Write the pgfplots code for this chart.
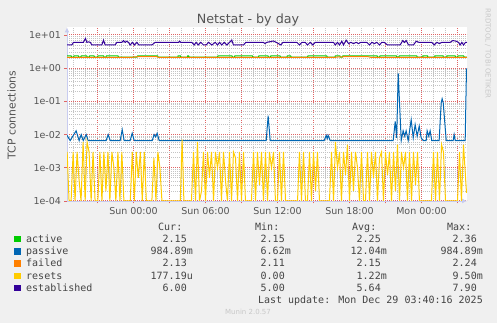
\documentclass[border=0pt]{standalone}
\usepackage{pgfplots}
\pgfplotsset{compat=1.18}
\usetikzlibrary{arrows.meta}
\usepackage{fontspec}
\setmainfont{DejaVu Sans}
\newfontfamily\monof{DejaVu Sans Mono}
\definecolor{bgc}{HTML}{F0F0F0}
\definecolor{txt}{HTML}{555555}
\definecolor{legtxt}{HTML}{444444}
\definecolor{faint}{HTML}{C8C8C8}
\definecolor{axiscol}{HTML}{C8CCF0}
\definecolor{mgrid}{HTML}{E06464}
\definecolor{gridc}{HTML}{C4C4C4}
\definecolor{cact}{HTML}{00CC00}
\definecolor{cpas}{HTML}{0066B3}
\definecolor{cfai}{HTML}{FF8000}
\definecolor{cres}{HTML}{FFCC00}
\definecolor{cest}{HTML}{330099}
\newcommand\sfx{\phantom{m}}
\begin{document}
\begin{tikzpicture}[x=1bp,y=1bp]
\fill[bgc] (0bp,0bp) rectangle (497bp,323bp);
\begin{axis}[
  at={(67bp,122bp)}, anchor=south west,
  width=400bp, height=173.5bp, scale only axis,
  xmin=-5.5417, xmax=27.7917,
  ymode=log, ymin=1e-4, ymax=16.8,
  axis background/.style={fill=white},
  axis x line=bottom, axis y line=left,
  axis line style={draw=axiscol, line width=0.8bp},
  x axis line style={-{Latex[length=5bp,width=5bp]}},
  y axis line style={-{Latex[length=5bp,width=5bp]}},
  xtick={-3,0,3,6,9,12,15,18,21,24,27},
  xticklabels={,Sun 00:00,,Sun 06:00,,Sun 12:00,,Sun 18:00,,Mon 00:00,},
  minor xtick={-5,-4,-2,-1,1,2,4,5,7,8,10,11,13,14,16,17,19,20,22,23,25,26},
  ytick={1e-4,1e-3,1e-2,1e-1,1,10},
  yticklabels={1e-04,1e-03,1e-02,1e-01,1e+00,1e+01},
  minor ytick={2e-4,3e-4,4e-4,5e-4,6e-4,7e-4,8e-4,9e-4,
               2e-3,3e-3,4e-3,5e-3,6e-3,7e-3,8e-3,9e-3,
               2e-2,3e-2,4e-2,5e-2,6e-2,7e-2,8e-2,9e-2,
               0.2,0.3,0.4,0.5,0.6,0.7,0.8,0.9,
               2,3,4,5,6,7,8,9},
  xmajorgrids, ymajorgrids, xminorgrids, yminorgrids,
  every axis grid/.style={},
  every major grid/.style={draw=mgrid, line width=1bp, dash pattern=on 1bp off 1bp},
  every minor grid/.style={draw=gridc, line width=0.8bp, dash pattern=on 1bp off 1bp},
  every tick/.style={draw=mgrid, line width=0.8bp},
  major tick length=2.5bp, minor tick length=0pt,
  tick align=outside,
  ticklabel style={font=\fontsize{9.5bp}{11bp}\selectfont, text=txt},
  every axis plot/.append style={line width=1bp, mark=none},
]
% active
\addplot[cact] coordinates {
(-5.54,2.36)(-5.2,2.36)(-5.15,2.15)(-5.0,2.15)(-4.95,2.36)(-4.6,2.36)(-4.55,2.15)
(-4.4,2.15)(-4.35,2.36)(-3.9,2.36)(-3.85,2.15)(-3.7,2.15)(-3.65,2.36)(-3.3,2.36)(-3.25,2.15)
(-3.0,2.15)(-2.95,2.36)(-2.5,2.36)(-2.45,2.15)(-2.3,2.15)(-2.25,2.36)(-1.3,2.36)(-1.25,2.15)
(0.3,2.15)(0.35,2.36)(2.0,2.36)(2.05,2.15)
(3.7,2.15)(3.72,2.36)(3.9,2.36)(3.92,2.15)(4.5,2.15)(4.52,2.36)(4.6,2.36)(4.62,2.15)
(7.0,2.15)(7.05,2.36)(8.2,2.36)(8.25,2.15)(8.4,2.15)(8.45,2.36)(9.9,2.36)(9.95,2.15)
(10.4,2.15)(10.45,2.36)(11.2,2.36)(11.25,2.15)(11.4,2.15)(11.45,2.36)(12.2,2.36)(12.25,2.15)
(12.8,2.15)(12.82,2.36)(13.1,2.36)(13.12,2.15)(14.5,2.15)(14.55,2.36)(16.1,2.36)(16.15,2.15)
(16.8,2.15)(16.82,2.36)(17.2,2.36)(17.22,2.15)(17.4,2.15)(17.45,2.36)(19.8,2.36)
(20.3,2.36)(20.35,2.15)(20.5,2.15)(20.55,2.36)(21.9,2.36)(21.95,2.15)(22.1,2.15)(22.15,2.36)
(23.6,2.36)(23.65,2.15)(24.1,2.15)(24.12,2.36)(24.5,2.36)(24.52,2.15)(25.1,2.15)(25.12,2.36)
(25.8,2.36)(25.82,2.15)(26.1,2.15)(26.12,2.36)(26.8,2.36)(26.85,2.15)(27.0,2.15)(27.05,2.36)
(27.5,2.36)(27.55,2.15)(27.79,2.15)};
% passive
\addplot[cpas] coordinates {
(-5.54,0.0095)(-5.28,0.00662)(-4.78,0.013)(-4.53,0.00662)(-4.36,0.010)(-4.19,0.00662)
(-3.94,0.010)(-3.78,0.00662)(-2.28,0.00662)(-2.11,0.010)(-1.94,0.00662)(-1.11,0.00662)
(-0.94,0.014)(-0.78,0.00662)(-0.28,0.00662)(-0.11,0.011)(0.06,0.00662)(1.56,0.00662)
(1.72,0.010)(1.85,0.0085)(1.97,0.011)(2.14,0.00662)(11.06,0.00662)(11.22,0.037)
(11.39,0.00662)(15.89,0.00662)(16.06,0.0095)(16.14,0.0075)(16.22,0.0095)(16.39,0.00662)
(21.64,0.00662)(21.81,0.025)(21.93,0.008)(22.06,0.7)(22.31,0.00662)(22.47,0.013)
(22.6,0.009)(22.72,0.013)(22.89,0.00662)(23.14,0.028)(23.31,0.008)(23.47,0.02)
(23.64,0.009)(23.81,0.018)(23.97,0.008)(24.14,0.00662)(24.39,0.00662)(24.47,0.013)
(24.6,0.009)(24.72,0.013)(24.85,0.00662)(25.47,0.00662)(25.64,0.09)(25.72,0.12)
(25.81,0.09)(26.06,0.00662)(26.64,0.00662)(26.72,0.010)(26.81,0.00662)(27.64,0.00662)
(27.75,0.985)};
% failed
\addplot[cfai] coordinates {
(-5.54,2.11)(-0.2,2.11)(0.2,2.2)(0.6,2.24)(1.9,2.24)(2.1,2.11)(16.7,2.11)(17.2,2.2)
(18.3,2.24)(19.5,2.24)(19.8,2.11)(27.6,2.11)(27.79,2.13)};
% resets
\addplot[cres] coordinates {
(-5.53,0.003)(-5.37,0.0001)(-5.2,0.0001)(-5.03,0.003)(-4.87,0.0001)(-4.7,0.003)
(-4.53,0.0004)(-4.37,0.0001)(-4.2,0.006)(-4.03,0.0001)(-3.87,0.006)(-3.7,0.003)
(-3.53,0.0001)(-3.37,0.003)(-3.2,0.0001)(-2.97,0.0001)
(-2.8,0.003)(-2.63,0.0001)(-2.47,0.003)(-2.3,0.0002)(-2.13,0.003)(-1.97,0.0001)
(-1.8,0.003)(-1.63,0.001)(-1.47,0.0001)(-1.3,0.003)(-1.13,0.0001)(-0.97,0.003)
(-0.8,0.0001)(-0.27,0.0001)
(-0.1,0.003)(0.07,0.0001)(0.23,0.003)(0.4,0.0005)(0.57,0.003)(0.73,0.0001)(0.9,0.003)
(1.07,0.0001)(1.53,0.0001)
(1.7,0.002)(1.87,0.0001)(2.03,0.003)(2.2,0.001)(2.37,0.0001)
(3.9,0.0001)(4.05,0.007)(4.2,0.0001)(4.83,0.0001)
(5.0,0.003)(5.17,0.0001)(5.33,0.006)(5.5,0.0001)(5.67,0.0002)(5.83,0.003)(6.0,0.0001)
(6.17,0.003)(6.33,0.0005)(6.5,0.003)(6.67,0.0001)(6.83,0.003)(7.0,0.001)(7.17,0.003)
(7.33,0.0001)(7.5,0.003)(7.67,0.0004)(7.83,0.0001)(8.0,0.003)(8.17,0.0001)(8.33,0.003)
(8.5,0.002)(8.67,0.0001)(8.83,0.003)(9.0,0.0001)(9.17,0.003)(9.33,0.0001)(9.83,0.0001)
(10.0,0.003)(10.17,0.0001)(10.33,0.003)(10.5,0.0003)(10.67,0.003)(10.83,0.0001)
(11.0,0.003)(11.17,0.0001)(11.33,0.003)(11.5,0.001)(11.67,0.003)(11.83,0.0001)
(12.0,0.0001)(12.17,0.003)(12.33,0.0001)(12.5,0.003)(12.67,0.0001)(13.67,0.0001)
(13.83,0.003)(14.0,0.0001)(14.17,0.003)(14.33,0.0001)(14.5,0.0001)(14.67,0.003)
(14.83,0.0001)(15.0,0.003)(15.17,0.0002)(15.33,0.003)(15.5,0.0001)(16.33,0.0001)
(16.5,0.003)(16.67,0.0001)(16.83,0.006)(17.0,0.001)(17.17,0.003)(17.33,0.0001)
(17.5,0.003)(17.67,0.0006)(17.83,0.005)(18.0,0.0001)(18.17,0.003)(18.33,0.0002)
(18.5,0.003)(18.67,0.001)(18.83,0.0001)(19.0,0.003)(19.17,0.0001)(19.33,0.0001)
(19.5,0.003)(19.67,0.0001)(19.83,0.003)(20.0,0.0005)(20.17,0.003)(20.33,0.0001)
(20.5,0.002)(20.67,0.003)(20.83,0.0001)(21.0,0.003)(21.17,0.0006)(21.33,0.003)
(21.5,0.0001)(21.67,0.003)(21.83,0.0002)(22.0,0.005)(22.17,0.0001)(22.33,0.003)
(22.5,0.001)(22.67,0.003)(22.83,0.0001)(23.0,0.003)(23.17,0.0001)(23.33,0.003)
(23.5,0.0003)(23.67,0.003)(23.83,0.0001)(24.0,0.0001)(24.83,0.0001)
(25.0,0.003)(25.17,0.0001)(25.33,0.003)(25.5,0.0001)(25.67,0.005)(25.83,0.003)
(26.0,0.0001)(27.0,0.0001)(27.17,0.003)(27.33,0.0001)(27.5,0.005)(27.75,0.000177)};
% established
\addplot[cest] coordinates {
(-5.54,5)(-5.14,5)(-5.0,6)(-4.17,6)(-4.0,7.9)(-3.89,6)(-3.75,6.2)(-3.6,6)(-3.47,5)
(-2.64,5)(-2.5,7)(-2.36,5)(-1.53,5)(-1.39,6)(-0.97,6)(-0.83,6.8)(-0.69,6)(-0.56,6.5)
(-0.42,6)(-0.28,5)(-0.08,6)(0.08,5)(0.28,6)(0.44,5)(1.53,5)(1.81,6)(3.75,6)(3.83,6.5)
(3.94,6)(4.86,6)(5.06,5)(5.22,6)(5.39,5)(5.61,6)(5.83,5)(6.06,5)(6.25,6)(6.53,5)
(6.81,6)(7.0,5)(7.17,6)(7.36,5)(7.56,6)(7.78,5)(8.0,6)(8.19,7)(8.33,5)(9.17,5)(9.36,6)
(10.83,6)(10.95,5.5)(11.11,6)(11.67,6.6)(11.9,6)(12.28,5)(12.45,6)(13.61,6)(13.83,5)
(14.03,6)(14.31,6)(14.5,5)(14.72,6)(14.94,5)(15.14,6)(16.67,6)(16.81,5)(17.0,6)(17.17,5)
(17.36,6.5)(17.5,5)(17.72,7)(17.92,5.5)(18.11,6)(18.33,5.5)(18.56,6)(18.75,5.5)(18.94,6)
(19.44,6)(19.67,5)(19.86,6)(20.08,5.5)(20.28,6)(20.5,5)(20.69,6)(20.89,6)(21.17,5)
(22.22,5)(22.44,6.8)(22.58,6)(22.72,6.8)(22.92,5)(23.33,5)(23.56,6.5)(23.78,6)(24.86,6)
(25.06,5)(25.28,6)(25.5,5.5)(25.69,6)(26.39,6)(26.61,6.8)(26.89,6.5)(27.08,6)(27.22,5)
(27.36,6)(27.5,5)(27.67,6)(27.79,6)};
\end{axis}
% texts
\node[font=\fontsize{12.7bp}{14bp}\selectfont, text=txt, anchor=base] at (248bp,299bp) {Netstat - by day};
\node[font=\fontsize{10.8bp}{12bp}\selectfont, text=txt, rotate=90, anchor=center] at (11.5bp,208bp) {TCP connections};
\node[font=\fontsize{7bp}{8bp}\selectfont, text=faint, rotate=-90, anchor=center] at (488bp,269.5bp) {RRDTOOL / TOBI OETIKER};
\tikzset{lg/.style={font=\monof\fontsize{10bp}{12bp}\selectfont, text=legtxt, inner sep=0pt}}
\node[lg, anchor=base west] at (158bp,92.5bp) {Cur:};
\node[lg, anchor=base west] at (255bp,92.5bp) {Min:};
\node[lg, anchor=base west] at (352bp,92.5bp) {Avg:};
\node[lg, anchor=base west] at (447bp,92.5bp) {Max:};
\foreach \yy/\cc/\nn/\va/\vb/\vc/\vd in {
  80.5/cact/active/2.15\sfx/2.15\sfx/2.25\sfx/2.36\sfx,
  68.3/cpas/passive/984.89m/6.62m/12.04m/984.89m,
  56.1/cfai/failed/2.13\sfx/2.11\sfx/2.15\sfx/2.24\sfx,
  43.9/cres/resets/177.19u/0.00\sfx/1.22m/9.50m,
  31.7/cest/established/6.00\sfx/5.00\sfx/5.64\sfx/7.90\sfx}{
  \node[inner sep=0pt, anchor=base west] at (14bp,\yy bp) {\textcolor{\cc}{\rule{6.5bp}{6.5bp}}};
  \node[lg, anchor=base west] at (26bp,\yy bp) {\nn};
  \node[lg, anchor=base east] at (193bp,\yy bp) {\va};
  \node[lg, anchor=base east] at (291bp,\yy bp) {\vb};
  \node[lg, anchor=base east] at (387bp,\yy bp) {\vc};
  \node[lg, anchor=base east] at (483bp,\yy bp) {\vd};
}
\node[lg, anchor=base east] at (483bp,20bp) {Last update: Mon Dec 29 03:40:16 2025};
\node[font=\fontsize{7bp}{8bp}\selectfont, text=faint, anchor=base] at (248bp,8.5bp) {Munin 2.0.57};
\end{tikzpicture}
\end{document}
